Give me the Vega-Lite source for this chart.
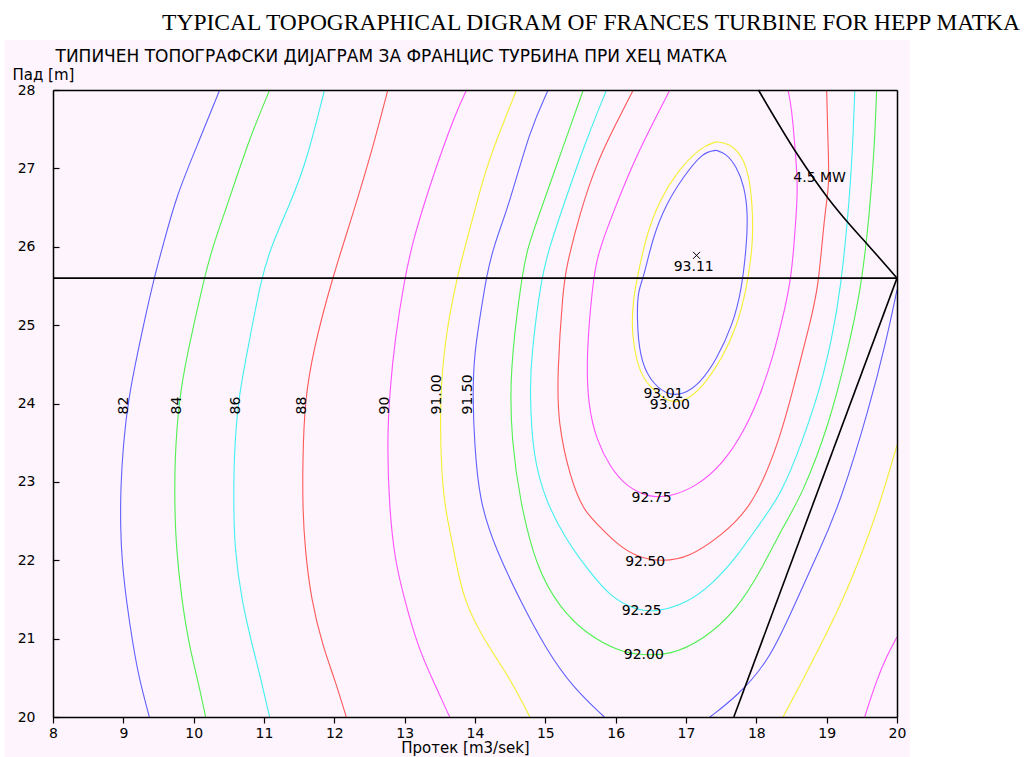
{
"$schema": "https://vega.github.io/schema/vega-lite/v6.json",
"width": 844, "height": 627,
"autosize": {"type": "none"},
"padding": {"left": 53, "top": 90, "right": 129, "bottom": 40},
"background": "#ffffff",
"config": {"view": {"stroke": null}},
"title": {"text": "TYPICAL TOPOGRAPHICAL DIGRAM OF FRANCES TURBINE FOR HEPP MATKA", "font": "Liberation Serif", "fontSize": 23.5, "fontWeight": "normal", "color": "#000000", "anchor": "end", "frame": "group", "dx": 123, "offset": 5},
"datasets": {
"lines": [
{"id":"c82","c":"blue","i":0,"x":10.37,"y":28},{"id":"c82","c":"blue","i":1,"x":10.04,"y":27.27},{"id":"c82","c":"blue","i":2,"x":9.75,"y":26.64},{"id":"c82","c":"blue","i":3,"x":9.56,"y":26.0},{"id":"c82","c":"blue","i":4,"x":9.42,"y":25.55},{"id":"c82","c":"blue","i":5,"x":9.19,"y":24.6},{"id":"c82","c":"blue","i":6,"x":9.07,"y":24.04},{"id":"c82","c":"blue","i":7,"x":9.0,"y":23.5},{"id":"c82","c":"blue","i":8,"x":8.96,"y":22.9},{"id":"c82","c":"blue","i":9,"x":8.96,"y":22.4},{"id":"c82","c":"blue","i":10,"x":8.98,"y":22.0},{"id":"c82","c":"blue","i":11,"x":9.04,"y":21.5},{"id":"c82","c":"blue","i":12,"x":9.14,"y":20.9},{"id":"c82","c":"blue","i":13,"x":9.23,"y":20.47},{"id":"c82","c":"blue","i":14,"x":9.37,"y":20},
{"id":"c84","c":"green","i":0,"x":11.08,"y":28},{"id":"c84","c":"green","i":1,"x":10.8,"y":27.4},{"id":"c84","c":"green","i":2,"x":10.47,"y":26.51},{"id":"c84","c":"green","i":3,"x":10.27,"y":26.0},{"id":"c84","c":"green","i":4,"x":10.15,"y":25.6},{"id":"c84","c":"green","i":5,"x":9.9,"y":24.6},{"id":"c84","c":"green","i":6,"x":9.79,"y":24.04},{"id":"c84","c":"green","i":7,"x":9.73,"y":23.28},{"id":"c84","c":"green","i":8,"x":9.73,"y":22.7},{"id":"c84","c":"green","i":9,"x":9.75,"y":22.17},{"id":"c84","c":"green","i":10,"x":9.83,"y":21.49},{"id":"c84","c":"green","i":11,"x":9.94,"y":20.89},{"id":"c84","c":"green","i":12,"x":10.06,"y":20.47},{"id":"c84","c":"green","i":13,"x":10.17,"y":20},
{"id":"c86","c":"cyan","i":0,"x":11.86,"y":28},{"id":"c86","c":"cyan","i":1,"x":11.6,"y":27.07},{"id":"c86","c":"cyan","i":2,"x":11.37,"y":26.55},{"id":"c86","c":"cyan","i":3,"x":11.1,"y":26.0},{"id":"c86","c":"cyan","i":4,"x":10.96,"y":25.6},{"id":"c86","c":"cyan","i":5,"x":10.75,"y":24.6},{"id":"c86","c":"cyan","i":6,"x":10.63,"y":24.04},{"id":"c86","c":"cyan","i":7,"x":10.57,"y":23.28},{"id":"c86","c":"cyan","i":8,"x":10.57,"y":22.68},{"id":"c86","c":"cyan","i":9,"x":10.58,"y":22.17},{"id":"c86","c":"cyan","i":10,"x":10.68,"y":21.49},{"id":"c86","c":"cyan","i":11,"x":10.84,"y":20.89},{"id":"c86","c":"cyan","i":12,"x":10.96,"y":20.47},{"id":"c86","c":"cyan","i":13,"x":11.08,"y":20},
{"id":"c88","c":"red","i":0,"x":12.76,"y":28},{"id":"c88","c":"red","i":1,"x":12.55,"y":27.27},{"id":"c88","c":"red","i":2,"x":12.27,"y":26.43},{"id":"c88","c":"red","i":3,"x":11.97,"y":25.6},{"id":"c88","c":"red","i":4,"x":11.7,"y":24.68},{"id":"c88","c":"red","i":5,"x":11.58,"y":24.04},{"id":"c88","c":"red","i":6,"x":11.55,"y":23.28},{"id":"c88","c":"red","i":7,"x":11.55,"y":22.68},{"id":"c88","c":"red","i":8,"x":11.58,"y":22.17},{"id":"c88","c":"red","i":9,"x":11.67,"y":21.49},{"id":"c88","c":"red","i":10,"x":11.84,"y":20.89},{"id":"c88","c":"red","i":11,"x":12.01,"y":20.47},{"id":"c88","c":"red","i":12,"x":12.17,"y":20},
{"id":"c90","c":"magenta","i":0,"x":13.88,"y":28},{"id":"c90","c":"magenta","i":1,"x":13.72,"y":27.7},{"id":"c90","c":"magenta","i":2,"x":13.38,"y":26.85},{"id":"c90","c":"magenta","i":3,"x":13.12,"y":26.09},{"id":"c90","c":"magenta","i":4,"x":13.0,"y":25.6},{"id":"c90","c":"magenta","i":5,"x":12.86,"y":24.81},{"id":"c90","c":"magenta","i":6,"x":12.79,"y":24.17},{"id":"c90","c":"magenta","i":7,"x":12.75,"y":23.53},{"id":"c90","c":"magenta","i":8,"x":12.78,"y":22.68},{"id":"c90","c":"magenta","i":9,"x":12.86,"y":22.0},{"id":"c90","c":"magenta","i":10,"x":13.0,"y":21.49},{"id":"c90","c":"magenta","i":11,"x":13.19,"y":20.89},{"id":"c90","c":"magenta","i":12,"x":13.4,"y":20.47},{"id":"c90","c":"magenta","i":13,"x":13.64,"y":20},
{"id":"c91","c":"yellow","i":0,"x":14.59,"y":28},{"id":"c91","c":"yellow","i":1,"x":14.21,"y":27.15},{"id":"c91","c":"yellow","i":2,"x":14.06,"y":26.68},{"id":"c91","c":"yellow","i":3,"x":13.92,"y":26.21},{"id":"c91","c":"yellow","i":4,"x":13.74,"y":25.6},{"id":"c91","c":"yellow","i":5,"x":13.57,"y":24.81},{"id":"c91","c":"yellow","i":6,"x":13.5,"y":24.04},{"id":"c91","c":"yellow","i":7,"x":13.52,"y":23.11},{"id":"c91","c":"yellow","i":8,"x":13.58,"y":22.64},{"id":"c91","c":"yellow","i":9,"x":13.69,"y":22.17},{"id":"c91","c":"yellow","i":10,"x":13.83,"y":21.49},{"id":"c91","c":"yellow","i":11,"x":14.15,"y":20.95},{"id":"c91","c":"yellow","i":12,"x":14.49,"y":20.51},{"id":"c91","c":"yellow","i":13,"x":14.78,"y":20},
{"id":"c91r","c":"yellow","i":0,"x":18.38,"y":20},{"id":"c91r","c":"yellow","i":1,"x":18.66,"y":20.47},{"id":"c91r","c":"yellow","i":2,"x":18.95,"y":20.98},{"id":"c91r","c":"yellow","i":3,"x":19.23,"y":21.49},{"id":"c91r","c":"yellow","i":4,"x":19.52,"y":22.13},{"id":"c91r","c":"yellow","i":5,"x":19.75,"y":22.7},{"id":"c91r","c":"yellow","i":6,"x":20.0,"y":23.47},
{"id":"c915","c":"blue","i":0,"x":15.04,"y":28},{"id":"c915","c":"blue","i":1,"x":14.78,"y":27.49},{"id":"c915","c":"blue","i":2,"x":14.49,"y":26.55},{"id":"c915","c":"blue","i":3,"x":14.26,"y":26.0},{"id":"c915","c":"blue","i":4,"x":14.16,"y":25.6},{"id":"c915","c":"blue","i":5,"x":14.11,"y":25.32},{"id":"c915","c":"blue","i":6,"x":13.98,"y":24.6},{"id":"c915","c":"blue","i":7,"x":13.97,"y":24.04},{"id":"c915","c":"blue","i":8,"x":13.99,"y":23.53},{"id":"c915","c":"blue","i":9,"x":14.06,"y":22.75},{"id":"c915","c":"blue","i":10,"x":14.3,"y":22.13},{"id":"c915","c":"blue","i":11,"x":14.64,"y":21.49},{"id":"c915","c":"blue","i":12,"x":15.02,"y":20.85},{"id":"c915","c":"blue","i":13,"x":15.39,"y":20.38},{"id":"c915","c":"blue","i":14,"x":15.84,"y":20},
{"id":"c915r","c":"blue","i":0,"x":17.34,"y":20},{"id":"c915r","c":"blue","i":1,"x":17.72,"y":20.26},{"id":"c915r","c":"blue","i":2,"x":18.19,"y":20.72},{"id":"c915r","c":"blue","i":3,"x":18.57,"y":21.49},{"id":"c915r","c":"blue","i":4,"x":18.9,"y":22.13},{"id":"c915r","c":"blue","i":5,"x":19.2,"y":22.75},{"id":"c915r","c":"blue","i":6,"x":19.61,"y":23.96},{"id":"c915r","c":"blue","i":7,"x":19.85,"y":24.81},{"id":"c915r","c":"blue","i":8,"x":20.0,"y":25.45},
{"id":"c92","c":"green","i":0,"x":15.54,"y":28},{"id":"c92","c":"green","i":1,"x":15.25,"y":27.27},{"id":"c92","c":"green","i":2,"x":14.92,"y":26.43},{"id":"c92","c":"green","i":3,"x":14.75,"y":26.0},{"id":"c92","c":"green","i":4,"x":14.66,"y":25.6},{"id":"c92","c":"green","i":5,"x":14.49,"y":24.38},{"id":"c92","c":"green","i":6,"x":14.52,"y":23.53},{"id":"c92","c":"green","i":7,"x":14.64,"y":22.75},{"id":"c92","c":"green","i":8,"x":14.87,"y":21.91},{"id":"c92","c":"green","i":9,"x":15.2,"y":21.4},{"id":"c92","c":"green","i":10,"x":15.58,"y":21.06},{"id":"c92","c":"green","i":11,"x":16.06,"y":20.83},{"id":"c92","c":"green","i":12,"x":16.39,"y":20.79},{"id":"c92","c":"green","i":13,"x":16.77,"y":20.79},{"id":"c92","c":"green","i":14,"x":17.24,"y":20.98},{"id":"c92","c":"green","i":15,"x":17.72,"y":21.36},{"id":"c92","c":"green","i":16,"x":18.09,"y":21.91},{"id":"c92","c":"green","i":17,"x":18.38,"y":22.43},{"id":"c92","c":"green","i":18,"x":18.66,"y":22.85},{"id":"c92","c":"green","i":19,"x":19.04,"y":23.75},{"id":"c92","c":"green","i":20,"x":19.28,"y":24.6},{"id":"c92","c":"green","i":21,"x":19.49,"y":25.45},{"id":"c92","c":"green","i":22,"x":19.61,"y":26.43},{"id":"c92","c":"green","i":23,"x":19.68,"y":27.27},{"id":"c92","c":"green","i":24,"x":19.71,"y":28},
{"id":"c9225","c":"cyan","i":0,"x":15.87,"y":28},{"id":"c9225","c":"cyan","i":1,"x":15.58,"y":27.36},{"id":"c9225","c":"cyan","i":2,"x":15.3,"y":26.64},{"id":"c9225","c":"cyan","i":3,"x":15.06,"y":26.0},{"id":"c9225","c":"cyan","i":4,"x":14.94,"y":25.6},{"id":"c9225","c":"cyan","i":5,"x":14.8,"y":24.6},{"id":"c9225","c":"cyan","i":6,"x":14.78,"y":24.17},{"id":"c9225","c":"cyan","i":7,"x":14.82,"y":23.32},{"id":"c9225","c":"cyan","i":8,"x":15.02,"y":22.72},{"id":"c9225","c":"cyan","i":9,"x":15.3,"y":22.26},{"id":"c9225","c":"cyan","i":10,"x":15.58,"y":21.91},{"id":"c9225","c":"cyan","i":11,"x":15.92,"y":21.53},{"id":"c9225","c":"cyan","i":12,"x":16.3,"y":21.36},{"id":"c9225","c":"cyan","i":13,"x":16.58,"y":21.34},{"id":"c9225","c":"cyan","i":14,"x":17.01,"y":21.45},{"id":"c9225","c":"cyan","i":15,"x":17.38,"y":21.7},{"id":"c9225","c":"cyan","i":16,"x":17.72,"y":22.04},{"id":"c9225","c":"cyan","i":17,"x":18.05,"y":22.47},{"id":"c9225","c":"cyan","i":18,"x":18.36,"y":22.85},{"id":"c9225","c":"cyan","i":19,"x":18.66,"y":23.53},{"id":"c9225","c":"cyan","i":20,"x":18.9,"y":24.17},{"id":"c9225","c":"cyan","i":21,"x":19.07,"y":24.81},{"id":"c9225","c":"cyan","i":22,"x":19.2,"y":25.45},{"id":"c9225","c":"cyan","i":23,"x":19.33,"y":26.64},{"id":"c9225","c":"cyan","i":24,"x":19.38,"y":27.49},{"id":"c9225","c":"cyan","i":25,"x":19.4,"y":28},
{"id":"c925","c":"red","i":0,"x":16.25,"y":28},{"id":"c925","c":"red","i":1,"x":16.01,"y":27.58},{"id":"c925","c":"red","i":2,"x":15.73,"y":27.07},{"id":"c925","c":"red","i":3,"x":15.49,"y":26.43},{"id":"c925","c":"red","i":4,"x":15.3,"y":25.75},{"id":"c925","c":"red","i":5,"x":15.25,"y":25.45},{"id":"c925","c":"red","i":6,"x":15.17,"y":24.38},{"id":"c925","c":"red","i":7,"x":15.18,"y":23.75},{"id":"c925","c":"red","i":8,"x":15.35,"y":23.06},{"id":"c925","c":"red","i":9,"x":15.54,"y":22.64},{"id":"c925","c":"red","i":10,"x":15.73,"y":22.47},{"id":"c925","c":"red","i":11,"x":16.01,"y":22.21},{"id":"c925","c":"red","i":12,"x":16.3,"y":22.04},{"id":"c925","c":"red","i":13,"x":16.67,"y":21.98},{"id":"c925","c":"red","i":14,"x":17.05,"y":22.04},{"id":"c925","c":"red","i":15,"x":17.48,"y":22.3},{"id":"c925","c":"red","i":16,"x":17.95,"y":22.68},{"id":"c925","c":"red","i":17,"x":18.33,"y":23.53},{"id":"c925","c":"red","i":18,"x":18.52,"y":24.17},{"id":"c925","c":"red","i":19,"x":18.76,"y":25.02},{"id":"c925","c":"red","i":20,"x":18.88,"y":25.45},{"id":"c925","c":"red","i":21,"x":18.97,"y":26.43},{"id":"c925","c":"red","i":22,"x":19.04,"y":26.79},{"id":"c925","c":"red","i":23,"x":19.02,"y":27.27},{"id":"c925","c":"red","i":24,"x":19.0,"y":28},
{"id":"c9275","c":"magenta","i":0,"x":16.77,"y":28},{"id":"c9275","c":"magenta","i":1,"x":16.48,"y":27.49},{"id":"c9275","c":"magenta","i":2,"x":16.25,"y":27.07},{"id":"c9275","c":"magenta","i":3,"x":15.96,"y":26.43},{"id":"c9275","c":"magenta","i":4,"x":15.75,"y":25.92},{"id":"c9275","c":"magenta","i":5,"x":15.68,"y":25.6},{"id":"c9275","c":"magenta","i":6,"x":15.58,"y":24.6},{"id":"c9275","c":"magenta","i":7,"x":15.61,"y":23.96},{"id":"c9275","c":"magenta","i":8,"x":15.73,"y":23.53},{"id":"c9275","c":"magenta","i":9,"x":15.92,"y":23.19},{"id":"c9275","c":"magenta","i":10,"x":16.15,"y":22.94},{"id":"c9275","c":"magenta","i":11,"x":16.48,"y":22.8},{"id":"c9275","c":"magenta","i":12,"x":16.77,"y":22.81},{"id":"c9275","c":"magenta","i":13,"x":17.15,"y":22.94},{"id":"c9275","c":"magenta","i":14,"x":17.53,"y":23.24},{"id":"c9275","c":"magenta","i":15,"x":17.81,"y":23.62},{"id":"c9275","c":"magenta","i":16,"x":18.05,"y":24.09},{"id":"c9275","c":"magenta","i":17,"x":18.24,"y":24.6},{"id":"c9275","c":"magenta","i":18,"x":18.4,"y":25.19},{"id":"c9275","c":"magenta","i":19,"x":18.5,"y":25.6},{"id":"c9275","c":"magenta","i":20,"x":18.57,"y":26.43},{"id":"c9275","c":"magenta","i":21,"x":18.59,"y":26.8},{"id":"c9275","c":"magenta","i":22,"x":18.55,"y":27.27},{"id":"c9275","c":"magenta","i":23,"x":18.5,"y":27.79},{"id":"c9275","c":"magenta","i":24,"x":18.45,"y":28},
{"id":"c93","c":"yellow","i":0,"x":17.43,"y":27.34},{"id":"c93","c":"yellow","i":1,"x":17.2,"y":27.27},{"id":"c93","c":"yellow","i":2,"x":16.86,"y":26.94},{"id":"c93","c":"yellow","i":3,"x":16.63,"y":26.6},{"id":"c93","c":"yellow","i":4,"x":16.44,"y":26.17},{"id":"c93","c":"yellow","i":5,"x":16.3,"y":25.58},{"id":"c93","c":"yellow","i":6,"x":16.25,"y":25.32},{"id":"c93","c":"yellow","i":7,"x":16.23,"y":25.02},{"id":"c93","c":"yellow","i":8,"x":16.25,"y":24.77},{"id":"c93","c":"yellow","i":9,"x":16.34,"y":24.38},{"id":"c93","c":"yellow","i":10,"x":16.53,"y":24.17},{"id":"c93","c":"yellow","i":11,"x":16.77,"y":24.0},{"id":"c93","c":"yellow","i":12,"x":17.01,"y":24.04},{"id":"c93","c":"yellow","i":13,"x":17.24,"y":24.21},{"id":"c93","c":"yellow","i":14,"x":17.53,"y":24.6},{"id":"c93","c":"yellow","i":15,"x":17.72,"y":24.98},{"id":"c93","c":"yellow","i":16,"x":17.86,"y":25.45},{"id":"c93","c":"yellow","i":17,"x":17.95,"y":26.0},{"id":"c93","c":"yellow","i":18,"x":17.95,"y":26.43},{"id":"c93","c":"yellow","i":19,"x":17.91,"y":26.85},{"id":"c93","c":"yellow","i":20,"x":17.81,"y":27.15},{"id":"c93","c":"yellow","i":21,"x":17.62,"y":27.32},{"id":"c93","c":"yellow","i":22,"x":17.43,"y":27.34},
{"id":"c9301","c":"blue","i":0,"x":17.43,"y":27.23},{"id":"c9301","c":"blue","i":1,"x":17.24,"y":27.21},{"id":"c9301","c":"blue","i":2,"x":16.96,"y":26.89},{"id":"c9301","c":"blue","i":3,"x":16.72,"y":26.55},{"id":"c9301","c":"blue","i":4,"x":16.53,"y":26.13},{"id":"c9301","c":"blue","i":5,"x":16.39,"y":25.58},{"id":"c9301","c":"blue","i":6,"x":16.32,"y":25.45},{"id":"c9301","c":"blue","i":7,"x":16.3,"y":25.11},{"id":"c9301","c":"blue","i":8,"x":16.34,"y":24.6},{"id":"c9301","c":"blue","i":9,"x":16.48,"y":24.3},{"id":"c9301","c":"blue","i":10,"x":16.72,"y":24.11},{"id":"c9301","c":"blue","i":11,"x":16.96,"y":24.11},{"id":"c9301","c":"blue","i":12,"x":17.2,"y":24.26},{"id":"c9301","c":"blue","i":13,"x":17.43,"y":24.55},{"id":"c9301","c":"blue","i":14,"x":17.67,"y":25.02},{"id":"c9301","c":"blue","i":15,"x":17.79,"y":25.45},{"id":"c9301","c":"blue","i":16,"x":17.86,"y":26.0},{"id":"c9301","c":"blue","i":17,"x":17.88,"y":26.43},{"id":"c9301","c":"blue","i":18,"x":17.83,"y":26.77},{"id":"c9301","c":"blue","i":19,"x":17.72,"y":27.02},{"id":"c9301","c":"blue","i":20,"x":17.57,"y":27.19},{"id":"c9301","c":"blue","i":21,"x":17.43,"y":27.23},
{"id":"c90r","c":"magenta","i":0,"x":19.54,"y":20},{"id":"c90r","c":"magenta","i":1,"x":19.71,"y":20.47},{"id":"c90r","c":"magenta","i":2,"x":19.85,"y":20.77},{"id":"c90r","c":"magenta","i":3,"x":20.0,"y":21.02}
],
"black": [
{"id":"h","i":0,"x":8,"y":25.6},{"id":"h","i":1,"x":20,"y":25.6},
{"id":"p","i":0,"x":18.03,"y":28},{"id":"p","i":1,"x":18.59,"y":27.17},{"id":"p","i":2,"x":19.02,"y":26.62},{"id":"p","i":3,"x":19.33,"y":26.28},{"id":"p","i":4,"x":19.59,"y":26.02},{"id":"p","i":5,"x":20.0,"y":25.6},
{"id":"q","i":0,"x":17.68,"y":20},{"id":"q","i":1,"x":20.0,"y":25.6}
],
"vlabels": [
{"t":"82","x":9.01,"y":23.86},{"t":"84","x":9.77,"y":23.86},{"t":"86","x":10.6,"y":23.86},{"t":"88","x":11.54,"y":23.86},{"t":"90","x":12.72,"y":23.86},{"t":"91.00","x":13.46,"y":23.86},{"t":"91.50","x":13.9,"y":23.86}
],
"hlabels": [
{"t":"93.11","x":17.11,"y":25.74},{"t":"93.01","x":16.68,"y":24.12},{"t":"93.00","x":16.77,"y":23.98},{"t":"92.75","x":16.51,"y":22.8},{"t":"92.50","x":16.42,"y":21.98},{"t":"92.25","x":16.37,"y":21.35},{"t":"92.00","x":16.4,"y":20.79},{"t":"4.5 MW","x":18.9,"y":26.88}
],
"marker": [{"x":17.15,"y":25.89}]
},
"resolve": {"axis": {"x": "independent", "y": "independent"}},
"layer": [
{"data": {"values": [{}]},
 "mark": {"type": "rect", "color": "#fdf4fd"},
 "encoding": {
  "x": {"datum": 7.31, "type": "quantitative", "scale": {"domain": [8, 20], "nice": false, "zero": false}, "axis": null},
  "x2": {"datum": 20.18},
  "y": {"datum": 28.64, "type": "quantitative", "scale": {"domain": [20, 28], "nice": false, "zero": false}, "axis": null},
  "y2": {"datum": 19.49}
 }},
{"data": {"name": "lines"},
 "mark": {"type": "line", "strokeWidth": 1.1, "interpolate": "basis"},
 "encoding": {
  "x": {"field": "x", "type": "quantitative", "scale": {"domain": [8, 20], "nice": false, "zero": false},
   "axis": {"orient": "bottom", "values": [8,9,10,11,12,13,14,15,16,17,18,19,20], "format": "d", "grid": false, "zindex": 1,
    "domainColor": "#000000", "domainWidth": 1.5, "tickColor": "#000000", "tickWidth": 1.2, "tickSize": 6,
    "labelFont": "DejaVu Sans", "labelFontSize": 14, "labelColor": "#000000", "labelPadding": 3, "labelFlush": false,
    "title": "Протек [m3/sek]", "titleFont": "DejaVu Sans", "titleFontSize": 15, "titleFontWeight": "normal", "titleColor": "#000000",
    "titleX": 412, "titleY": 35, "titleBaseline": "alphabetic", "titleAlign": "center"}},
  "y": {"field": "y", "type": "quantitative", "scale": {"domain": [20, 28], "nice": false, "zero": false},
   "axis": {"orient": "left", "values": [20,21,22,23,24,25,26,27,28], "format": "d", "grid": false, "zindex": 1,
    "domainColor": "#000000", "domainWidth": 1.5, "tickColor": "#000000", "tickWidth": 1.2, "tickSize": -6,
    "labelFont": "DejaVu Sans", "labelFontSize": 14, "labelColor": "#000000", "labelPadding": 24, "labelFlush": false, "labelBaseline": "middle",
    "title": "Пад [m]", "titleFont": "DejaVu Sans", "titleFontSize": 15, "titleFontWeight": "normal", "titleColor": "#000000",
    "titleAngle": 0, "titleAlign": "left", "titleBaseline": "middle", "titleX": -41, "titleY": -16}},
  "detail": {"field": "id", "type": "nominal"},
  "order": {"field": "i", "type": "quantitative"},
  "color": {"field": "c", "type": "nominal", "legend": null,
   "scale": {"domain": ["blue", "green", "cyan", "red", "magenta", "yellow"], "range": ["#6060ff", "#50f050", "#40f0f0", "#ff5858", "#ff50ff", "#f4f030"]}}
 }},
{"data": {"name": "black"},
 "mark": {"type": "line", "color": "#000000", "strokeWidth": 1.6, "interpolate": "monotone"},
 "encoding": {
  "x": {"field": "x", "type": "quantitative", "scale": {"domain": [8, 20], "nice": false, "zero": false},
   "axis": {"orient": "top", "labels": false, "ticks": false, "grid": false, "zindex": 1, "domainColor": "#000000", "domainWidth": 1.5,
    "title": "ТИПИЧЕН ТОПОГРАФСКИ ДИЈАГРАМ ЗА ФРАНЦИС ТУРБИНА ПРИ ХЕЦ МАТКА", "titleFont": "DejaVu Sans", "titleFontSize": 17, "titleFontWeight": "normal", "titleColor": "#000000",
    "titleX": 2, "titleY": -34, "titleAlign": "left", "titleBaseline": "middle"}},
  "y": {"field": "y", "type": "quantitative", "scale": {"domain": [20, 28], "nice": false, "zero": false},
   "axis": {"orient": "right", "labels": false, "ticks": false, "grid": false, "zindex": 1, "domainColor": "#000000", "domainWidth": 1.5, "title": null}},
  "detail": {"field": "id", "type": "nominal"},
  "order": {"field": "i", "type": "quantitative"}
 }},
{"data": {"name": "vlabels"},
 "mark": {"type": "text", "angle": 270, "align": "left", "baseline": "middle", "font": "DejaVu Sans", "fontSize": 14, "color": "#000000"},
 "encoding": {
  "x": {"field": "x", "type": "quantitative", "scale": {"domain": [8, 20], "nice": false, "zero": false}, "axis": null},
  "y": {"field": "y", "type": "quantitative", "scale": {"domain": [20, 28], "nice": false, "zero": false}, "axis": null},
  "text": {"field": "t", "type": "nominal"}
 }},
{"data": {"name": "hlabels"},
 "mark": {"type": "text", "align": "center", "baseline": "middle", "font": "DejaVu Sans", "fontSize": 14, "color": "#000000"},
 "encoding": {
  "x": {"field": "x", "type": "quantitative", "scale": {"domain": [8, 20], "nice": false, "zero": false}, "axis": null},
  "y": {"field": "y", "type": "quantitative", "scale": {"domain": [20, 28], "nice": false, "zero": false}, "axis": null},
  "text": {"field": "t", "type": "nominal"}
 }},
{"data": {"name": "marker"},
 "mark": {"type": "point", "shape": "M-1,-1L1,1M-1,1L1,-1", "size": 50, "filled": false, "color": "#000000", "strokeWidth": 1, "opacity": 1},
 "encoding": {
  "x": {"field": "x", "type": "quantitative", "scale": {"domain": [8, 20], "nice": false, "zero": false}, "axis": null},
  "y": {"field": "y", "type": "quantitative", "scale": {"domain": [20, 28], "nice": false, "zero": false}, "axis": null}
 }}
]
}
